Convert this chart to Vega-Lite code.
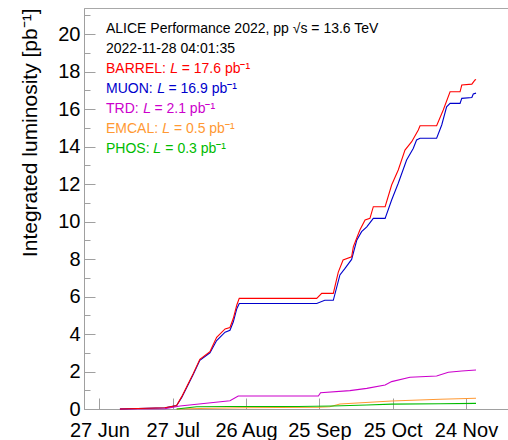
{
  "$schema": "https://vega.github.io/schema/vega-lite/v6.json",
  "width": 430,
  "height": 401,
  "autosize": "none",
  "padding": {"left": 84, "top": 8, "right": 0, "bottom": 31},
  "config": {
    "font": "Liberation Sans",
    "view": {"stroke": "#a8a8a8", "strokeWidth": 1},
    "axis": {"domainColor": "#a0a0a0", "tickColor": "#a0a0a0", "labelColor": "#000000", "labelFont": "Liberation Sans", "labelFontSize": 20, "grid": false}
  },
  "datasets": {
    "lines": [
      {"det": "TRD", "date": "2022-07-05T09:00:00Z", "v": 0},
      {"det": "TRD", "date": "2022-07-23T19:00:00Z", "v": 0.01},
      {"det": "TRD", "date": "2022-07-29T23:00:00Z", "v": 0.16},
      {"det": "TRD", "date": "2022-08-19T10:00:00Z", "v": 0.44},
      {"det": "TRD", "date": "2022-08-22T19:00:00Z", "v": 0.69},
      {"det": "TRD", "date": "2022-09-24T14:00:00Z", "v": 0.69},
      {"det": "TRD", "date": "2022-09-25T12:00:00Z", "v": 0.87},
      {"det": "TRD", "date": "2022-10-07T12:00:00Z", "v": 0.98},
      {"det": "TRD", "date": "2022-10-14T10:00:00Z", "v": 1.1},
      {"det": "TRD", "date": "2022-10-21T22:00:00Z", "v": 1.28},
      {"det": "TRD", "date": "2022-10-24T14:00:00Z", "v": 1.46},
      {"det": "TRD", "date": "2022-11-01T02:00:00Z", "v": 1.69},
      {"det": "TRD", "date": "2022-11-12T00:00:00Z", "v": 1.76},
      {"det": "TRD", "date": "2022-11-16T19:00:00Z", "v": 1.96},
      {"det": "TRD", "date": "2022-11-22T07:00:00Z", "v": 2.03},
      {"det": "TRD", "date": "2022-11-28T03:00:00Z", "v": 2.08},
      {"det": "EMCAL", "date": "2022-07-28T14:00:00Z", "v": 0},
      {"det": "EMCAL", "date": "2022-08-07T02:00:00Z", "v": 0.03},
      {"det": "EMCAL", "date": "2022-08-23T12:00:00Z", "v": 0.07},
      {"det": "EMCAL", "date": "2022-09-24T14:00:00Z", "v": 0.09},
      {"det": "EMCAL", "date": "2022-09-29T07:00:00Z", "v": 0.12},
      {"det": "EMCAL", "date": "2022-10-03T10:00:00Z", "v": 0.27},
      {"det": "EMCAL", "date": "2022-10-24T14:00:00Z", "v": 0.43},
      {"det": "EMCAL", "date": "2022-11-13T10:00:00Z", "v": 0.52},
      {"det": "EMCAL", "date": "2022-11-28T03:00:00Z", "v": 0.57},
      {"det": "PHOS", "date": "2022-07-28T14:00:00Z", "v": 0},
      {"det": "PHOS", "date": "2022-08-05T19:00:00Z", "v": 0.12},
      {"det": "PHOS", "date": "2022-08-19T10:00:00Z", "v": 0.13},
      {"det": "PHOS", "date": "2022-09-16T02:00:00Z", "v": 0.13},
      {"det": "PHOS", "date": "2022-09-30T14:00:00Z", "v": 0.16},
      {"det": "PHOS", "date": "2022-10-14T10:00:00Z", "v": 0.21},
      {"det": "PHOS", "date": "2022-10-24T14:00:00Z", "v": 0.26},
      {"det": "PHOS", "date": "2022-11-13T10:00:00Z", "v": 0.28},
      {"det": "PHOS", "date": "2022-11-28T03:00:00Z", "v": 0.3},
      {"det": "MUON", "date": "2022-07-05T09:00:00Z", "v": 0},
      {"det": "MUON", "date": "2022-07-23T19:00:00Z", "v": 0.07},
      {"det": "MUON", "date": "2022-07-28T14:00:00Z", "v": 0.18},
      {"det": "MUON", "date": "2022-07-30T16:00:00Z", "v": 0.62},
      {"det": "MUON", "date": "2022-08-01T17:00:00Z", "v": 1.15},
      {"det": "MUON", "date": "2022-08-04T10:00:00Z", "v": 1.85},
      {"det": "MUON", "date": "2022-08-07T02:00:00Z", "v": 2.6},
      {"det": "MUON", "date": "2022-08-11T05:00:00Z", "v": 3.0},
      {"det": "MUON", "date": "2022-08-13T23:00:00Z", "v": 3.65},
      {"det": "MUON", "date": "2022-08-17T10:00:00Z", "v": 4.1},
      {"det": "MUON", "date": "2022-08-19T10:00:00Z", "v": 4.2},
      {"det": "MUON", "date": "2022-08-20T19:00:00Z", "v": 4.65},
      {"det": "MUON", "date": "2022-08-22T05:00:00Z", "v": 5.35},
      {"det": "MUON", "date": "2022-08-23T05:00:00Z", "v": 5.63},
      {"det": "MUON", "date": "2022-09-23T22:00:00Z", "v": 5.63},
      {"det": "MUON", "date": "2022-09-27T05:00:00Z", "v": 5.8},
      {"det": "MUON", "date": "2022-09-30T17:00:00Z", "v": 5.8},
      {"det": "MUON", "date": "2022-10-03T10:00:00Z", "v": 7.15},
      {"det": "MUON", "date": "2022-10-05T12:00:00Z", "v": 7.5},
      {"det": "MUON", "date": "2022-10-08T05:00:00Z", "v": 7.98},
      {"det": "MUON", "date": "2022-10-10T07:00:00Z", "v": 9.0},
      {"det": "MUON", "date": "2022-10-12T07:00:00Z", "v": 9.46},
      {"det": "MUON", "date": "2022-10-14T10:00:00Z", "v": 9.72},
      {"det": "MUON", "date": "2022-10-17T02:00:00Z", "v": 10.17},
      {"det": "MUON", "date": "2022-10-21T22:00:00Z", "v": 10.17},
      {"det": "MUON", "date": "2022-10-24T14:00:00Z", "v": 11.15},
      {"det": "MUON", "date": "2022-10-27T07:00:00Z", "v": 12.04},
      {"det": "MUON", "date": "2022-10-30T17:00:00Z", "v": 13.28},
      {"det": "MUON", "date": "2022-11-02T10:00:00Z", "v": 13.9},
      {"det": "MUON", "date": "2022-11-03T19:00:00Z", "v": 14.35},
      {"det": "MUON", "date": "2022-11-05T05:00:00Z", "v": 14.44},
      {"det": "MUON", "date": "2022-11-12T00:00:00Z", "v": 14.44},
      {"det": "MUON", "date": "2022-11-14T02:00:00Z", "v": 15.15},
      {"det": "MUON", "date": "2022-11-16T02:00:00Z", "v": 16.12},
      {"det": "MUON", "date": "2022-11-17T12:00:00Z", "v": 16.3},
      {"det": "MUON", "date": "2022-11-21T14:00:00Z", "v": 16.3},
      {"det": "MUON", "date": "2022-11-22T07:00:00Z", "v": 16.57},
      {"det": "MUON", "date": "2022-11-26T10:00:00Z", "v": 16.62},
      {"det": "MUON", "date": "2022-11-27T00:00:00Z", "v": 16.8},
      {"det": "MUON", "date": "2022-11-28T03:00:00Z", "v": 16.85},
      {"det": "BARREL", "date": "2022-07-05T09:00:00Z", "v": 0},
      {"det": "BARREL", "date": "2022-07-23T19:00:00Z", "v": 0.07},
      {"det": "BARREL", "date": "2022-07-28T14:00:00Z", "v": 0.18},
      {"det": "BARREL", "date": "2022-07-30T16:00:00Z", "v": 0.66},
      {"det": "BARREL", "date": "2022-08-01T17:00:00Z", "v": 1.19},
      {"det": "BARREL", "date": "2022-08-04T10:00:00Z", "v": 1.9},
      {"det": "BARREL", "date": "2022-08-07T02:00:00Z", "v": 2.65},
      {"det": "BARREL", "date": "2022-08-11T05:00:00Z", "v": 3.06},
      {"det": "BARREL", "date": "2022-08-13T23:00:00Z", "v": 3.82},
      {"det": "BARREL", "date": "2022-08-17T10:00:00Z", "v": 4.27},
      {"det": "BARREL", "date": "2022-08-19T10:00:00Z", "v": 4.35},
      {"det": "BARREL", "date": "2022-08-20T19:00:00Z", "v": 4.84},
      {"det": "BARREL", "date": "2022-08-22T05:00:00Z", "v": 5.55},
      {"det": "BARREL", "date": "2022-08-23T05:00:00Z", "v": 5.9},
      {"det": "BARREL", "date": "2022-09-23T22:00:00Z", "v": 5.9},
      {"det": "BARREL", "date": "2022-09-25T23:00:00Z", "v": 6.17},
      {"det": "BARREL", "date": "2022-09-30T17:00:00Z", "v": 6.17},
      {"det": "BARREL", "date": "2022-10-02T18:00:00Z", "v": 7.3},
      {"det": "BARREL", "date": "2022-10-04T17:00:00Z", "v": 7.95},
      {"det": "BARREL", "date": "2022-10-08T05:00:00Z", "v": 8.12},
      {"det": "BARREL", "date": "2022-10-08T22:00:00Z", "v": 8.66},
      {"det": "BARREL", "date": "2022-10-11T14:00:00Z", "v": 9.55},
      {"det": "BARREL", "date": "2022-10-13T17:00:00Z", "v": 10.08},
      {"det": "BARREL", "date": "2022-10-15T17:00:00Z", "v": 10.17},
      {"det": "BARREL", "date": "2022-10-17T02:00:00Z", "v": 10.79},
      {"det": "BARREL", "date": "2022-10-21T22:00:00Z", "v": 10.79},
      {"det": "BARREL", "date": "2022-10-24T14:00:00Z", "v": 11.95},
      {"det": "BARREL", "date": "2022-10-27T07:00:00Z", "v": 12.75},
      {"det": "BARREL", "date": "2022-10-30T01:00:00Z", "v": 13.81},
      {"det": "BARREL", "date": "2022-11-01T19:00:00Z", "v": 14.26},
      {"det": "BARREL", "date": "2022-11-04T12:00:00Z", "v": 14.88},
      {"det": "BARREL", "date": "2022-11-05T05:00:00Z", "v": 15.11},
      {"det": "BARREL", "date": "2022-11-12T00:00:00Z", "v": 15.11},
      {"det": "BARREL", "date": "2022-11-14T17:00:00Z", "v": 15.95},
      {"det": "BARREL", "date": "2022-11-17T12:00:00Z", "v": 16.92},
      {"det": "BARREL", "date": "2022-11-21T14:00:00Z", "v": 16.92},
      {"det": "BARREL", "date": "2022-11-22T07:00:00Z", "v": 17.28},
      {"det": "BARREL", "date": "2022-11-26T10:00:00Z", "v": 17.33},
      {"det": "BARREL", "date": "2022-11-27T17:00:00Z", "v": 17.55},
      {"det": "BARREL", "date": "2022-11-28T03:00:00Z", "v": 17.58}
    ],
    "labels": [
      {"det": "info", "date": "2022-06-29T16:00:00Z", "v": 20.07, "label": "ALICE Performance 2022, pp  √s = 13.6 TeV"},
      {"det": "info", "date": "2022-06-29T16:00:00Z", "v": 19.0, "label": "2022-11-28 04:01:35"},
      {"det": "BARREL", "date": "2022-06-29T16:00:00Z", "v": 17.93, "label": "BARREL: 𝐿 = 17.6 pb⁻¹"},
      {"det": "MUON", "date": "2022-06-29T16:00:00Z", "v": 16.86, "label": "MUON: 𝐿 = 16.9 pb⁻¹"},
      {"det": "TRD", "date": "2022-06-29T16:00:00Z", "v": 15.79, "label": "TRD: 𝐿 = 2.1 pb⁻¹"},
      {"det": "EMCAL", "date": "2022-06-29T16:00:00Z", "v": 14.72, "label": "EMCAL: 𝐿 = 0.5 pb⁻¹"},
      {"det": "PHOS", "date": "2022-06-29T16:00:00Z", "v": 13.65, "label": "PHOS: 𝐿 = 0.3 pb⁻¹"}
    ]
  },
  "encoding": {
    "x": {
      "field": "date", "type": "temporal",
      "scale": {"type": "utc", "domain": [{"year": 2022, "month": 6, "date": 20, "hours": 16, "utc": true}, {"year": 2022, "month": 12, "date": 13, "hours": 16, "utc": true}]},
      "axis": {
        "title": null,
        "values": [
          {"year": 2022, "month": 6, "date": 27, "utc": true},
          {"year": 2022, "month": 7, "date": 27, "utc": true},
          {"year": 2022, "month": 8, "date": 26, "utc": true},
          {"year": 2022, "month": 9, "date": 25, "utc": true},
          {"year": 2022, "month": 10, "date": 25, "utc": true},
          {"year": 2022, "month": 11, "date": 24, "utc": true}
        ],
        "format": "%d %b",
        "tickSize": -11,
        "labelPadding": 22.5,
        "labelFlush": false,
        "labelOverlap": false
      }
    },
    "y": {
      "field": "v", "type": "quantitative",
      "scale": {"domain": [0, 21.39], "nice": false, "zero": true},
      "axis": {
        "title": "Integrated luminosity [pb⁻¹]",
        "titleFont": "Liberation Sans",
        "titleFontSize": 21,
        "titleFontWeight": "normal",
        "titleColor": "#000000",
        "titleAnchor": "end",
        "titlePadding": 17,
        "values": [0, 0.5, 1, 1.5, 2, 2.5, 3, 3.5, 4, 4.5, 5, 5.5, 6, 6.5, 7, 7.5, 8, 8.5, 9, 9.5, 10, 10.5, 11, 11.5, 12, 12.5, 13, 13.5, 14, 14.5, 15, 15.5, 16, 16.5, 17, 17.5, 18, 18.5, 19, 19.5, 20, 20.5, 21],
        "format": "d",
        "labelExpr": "datum.value % 2 === 0 ? datum.label : ''",
        "tickSize": {"condition": {"test": "datum.value % 2 === 0", "value": -11}, "value": -6},
        "labelPadding": 15,
        "labelFlush": false,
        "labelOverlap": false
      }
    },
    "color": {
      "field": "det", "type": "nominal", "legend": null,
      "scale": {"domain": ["BARREL", "MUON", "TRD", "EMCAL", "PHOS", "info"], "range": ["#ff0000", "#0000cc", "#cc00cc", "#ff9933", "#00bb00", "#000000"]}
    }
  },
  "layer": [
    {
      "data": {"name": "lines"},
      "mark": {"type": "line", "strokeWidth": 1.1},
      "encoding": {"detail": {"field": "det"}}
    },
    {
      "data": {"name": "labels"},
      "mark": {"type": "text", "align": "left", "baseline": "alphabetic", "fontSize": 14, "font": "Liberation Sans"},
      "encoding": {"text": {"field": "label"}}
    }
  ]
}
